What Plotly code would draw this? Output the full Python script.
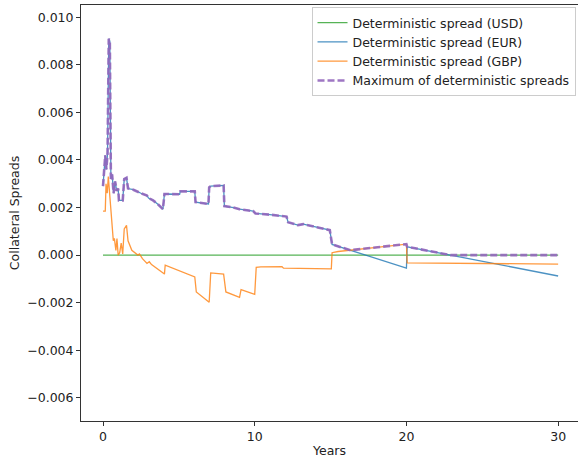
import plotly.graph_objects as go

# ---- data (spreads in absolute units) ----
USD_X = [0.0, 30.0]
USD_Y = [0.0, 0.0]

EUR_X = [0.0, 0.08, 0.15, 0.22, 0.3, 0.38, 0.45, 0.52, 0.6, 0.7, 0.8, 0.9, 1.0, 1.05, 1.3, 1.4,
         1.55, 1.65, 2.0, 2.5, 2.9, 3.0, 3.3, 3.6, 3.95, 4.05, 5.05, 5.1, 6.05, 6.1, 6.95, 7.0,
         7.1, 7.95, 8.0, 8.6, 9.0, 9.9, 10.05, 11.0, 12.1, 12.2, 12.85, 13.2, 14.95, 15.1,
         20.0, 20.05, 25.0, 30.0]
EUR_Y = [0.0029, 0.0035, 0.0042, 0.0036, 0.0043, 0.0091, 0.0090, 0.0032, 0.0034, 0.0026, 0.0031,
         0.0027, 0.0028, 0.0023, 0.0023, 0.0032, 0.00325, 0.0028, 0.00275, 0.0026, 0.0025, 0.0024,
         0.0023, 0.00215, 0.00193, 0.00257, 0.00256, 0.00268, 0.00268, 0.00223, 0.00215, 0.00285,
         0.0029, 0.00293, 0.00206, 0.0020, 0.00193, 0.00185, 0.00175, 0.0017, 0.00162, 0.00138,
         0.00126, 0.0013, 0.00105, 0.00045, -0.00055, 0.00035, -0.00025, -0.00088]

GBP_X = [0.0, 0.15, 0.2, 0.28, 0.35, 0.45, 0.55, 0.62, 0.68, 0.75, 0.85, 0.92, 1.0, 1.1, 1.2, 1.3,
         1.4, 1.55, 1.65, 1.9, 2.1, 2.3, 2.4, 2.6, 2.9, 3.05, 3.2, 4.05, 4.1, 6.05, 6.15, 7.0, 7.1,
         7.95, 8.1, 9.0, 9.1, 10.0, 10.1, 10.4, 11.8, 11.9, 15.05, 15.1, 15.5, 20.0, 20.05, 30.0]
GBP_Y = [0.00185, 0.00185, 0.0030, 0.0026, 0.0033, 0.0024, 0.0015, 0.0010, 0.0006, 0.0007, 0.0002,
         0.0007, 0.0, 0.0001, 0.0005, 0.00005, 0.0011, 0.00125, 0.0006, 0.0002, 0.0001, 0.0,
         0.00005, -0.00015, -0.00035, -0.00028, -0.0004, -0.0008, -0.00042, -0.00092, -0.00155,
         -0.00198, -0.00075, -0.0008, -0.00155, -0.00178, -0.00145, -0.00165, -0.00052, -0.0005,
         -0.00049, -0.00055, -0.00058, 0.0001, 0.00015, 0.00046, -0.00033, -0.00038]

MAX_TAIL_X = [16.3, 20.0, 20.05, 22.9, 30.0]
MAX_TAIL_Y = [0.000205, 0.00046, 0.00035, 0.0, 0.0]
_k = EUR_X.index(15.1) + 1
MAX_X = EUR_X[:_k] + MAX_TAIL_X
MAX_Y = EUR_Y[:_k] + MAX_TAIL_Y

X_TICKS = [0, 10, 20, 30]
Y_TICKS = [0.010, 0.008, 0.006, 0.004, 0.002, 0.0, -0.002, -0.004, -0.006]

FONT = "DejaVu Sans"
FS = 12.5

fig = go.Figure()
fig.add_trace(go.Scatter(x=USD_X, y=USD_Y, mode="lines", name="Deterministic spread (USD)",
                         line=dict(color="rgba(44,160,44,0.8)", width=1.3)))
fig.add_trace(go.Scatter(x=EUR_X, y=EUR_Y, mode="lines", name="Deterministic spread (EUR)",
                         line=dict(color="rgba(31,119,180,0.8)", width=1.3)))
fig.add_trace(go.Scatter(x=GBP_X, y=GBP_Y, mode="lines", name="Deterministic spread (GBP)",
                         line=dict(color="rgba(255,127,14,0.8)", width=1.3)))
fig.add_trace(go.Scatter(x=MAX_X, y=MAX_Y, mode="lines", name="Maximum of deterministic spreads",
                         line=dict(color="rgba(148,103,189,0.9)", width=2.6, dash="7px,3px")))

axis_common = dict(showgrid=False, zeroline=False, showline=True, linecolor="#333", linewidth=1,
                   ticks="outside", ticklen=4, tickwidth=1, tickcolor="#333",
                   tickfont=dict(family=FONT, size=FS, color="#222"),
                   title_font=dict(family=FONT, size=FS, color="#222"))

fig.update_layout(
    width=578, height=458,
    margin=dict(l=81, r=0, t=5, b=37),
    paper_bgcolor="white", plot_bgcolor="white",
    font=dict(family=FONT, size=FS, color="#222"),
    xaxis=dict(range=[-1.45, 31.31], tickvals=X_TICKS, ticktext=[str(v) for v in X_TICKS],
               mirror=True, title=dict(text="Years", standoff=3), **axis_common),
    yaxis=dict(range=[-0.00698, 0.01052], tickvals=Y_TICKS, tickformat=".3f",
               title=dict(text="Collateral Spreads", standoff=4), **axis_common),
    legend=dict(x=0.995, y=0.995, xanchor="right", yanchor="top",
                bgcolor="rgba(255,255,255,0.8)", bordercolor="#ccc", borderwidth=1,
                font=dict(family=FONT, size=FS, color="#222"), tracegroupgap=0),
    showlegend=True,
)

fig.write_html("out.html")
